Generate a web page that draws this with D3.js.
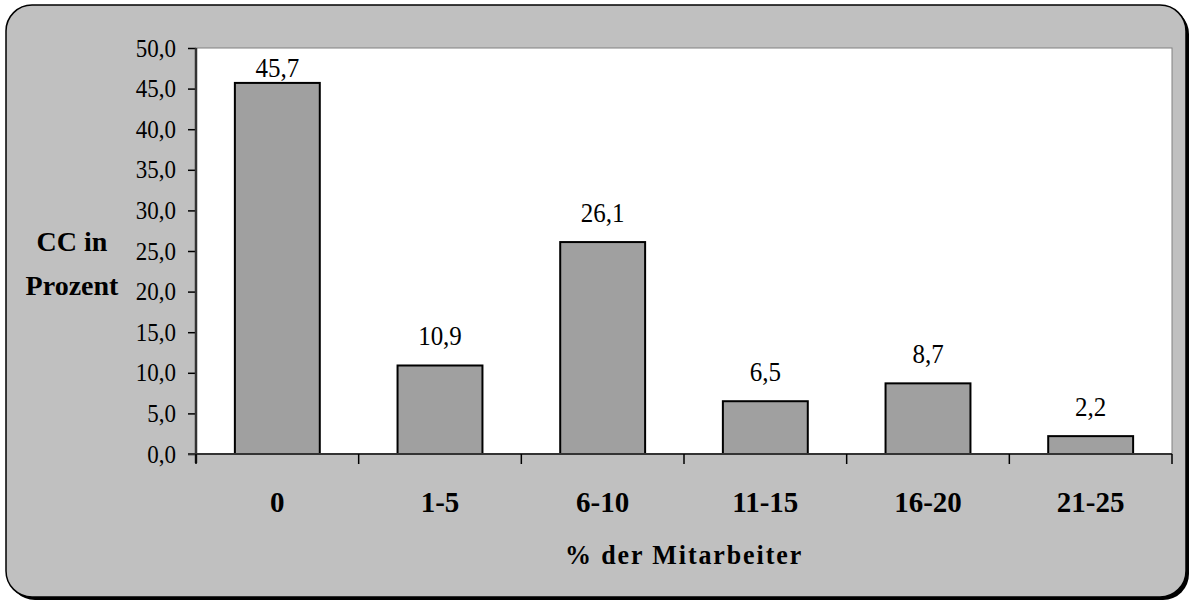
<!DOCTYPE html>
<html>
<head>
<meta charset="utf-8">
<script src="https://cdn.jsdelivr.net/npm/d3@7"></script>
<style>
  html, body { margin: 0; padding: 0; background: #ffffff; }
  svg { display: block; }
  text { font-family: "Liberation Serif", "Times New Roman", serif; fill: #000; }
</style>
</head>
<body>
<svg id="chart" width="1190" height="601"></svg>
<script>
// Anteil der Mitarbeiter (Kategorien) und CC-Anteil in Prozent
const categories = ["0", "1-5", "6-10", "11-15", "16-20", "21-25"];
const values = [45.7, 10.9, 26.1, 6.5, 8.7, 2.2];
const yTicks = [0, 5, 10, 15, 20, 25, 30, 35, 40, 45, 50];

const fmt = v => d3.format(".1f")(v).replace(".", ",");

const svg = d3.select("#chart");

// Frame with drop shadow
svg.append("rect")
  .attr("x", 9).attr("y", 8).attr("width", 1180).attr("height", 592)
  .attr("rx", 26).attr("ry", 26).attr("fill", "#000");
svg.append("rect")
  .attr("x", 6).attr("y", 5).attr("width", 1180).attr("height", 592)
  .attr("rx", 26).attr("ry", 26)
  .attr("fill", "#c0c0c0").attr("stroke", "#000").attr("stroke-width", 1.5);

const plot = { left: 196, top: 48, right: 1172, bottom: 454 };

const x = d3.scaleBand()
  .domain(categories)
  .range([plot.left, plot.right])
  .paddingInner(0.478)
  .paddingOuter(0.239);

const xOuter = d3.scaleBand()
  .domain(categories)
  .range([plot.left, plot.right])
  .padding(0);

const y = d3.scaleLinear().domain([0, 50]).range([plot.bottom, plot.top]);

// Plot area
svg.append("rect")
  .attr("x", plot.left).attr("y", plot.top)
  .attr("width", plot.right - plot.left).attr("height", plot.bottom - plot.top)
  .attr("fill", "#ffffff").attr("stroke", "#808080").attr("stroke-width", 1);

// Bars
svg.append("g").selectAll("rect")
  .data(values)
  .join("rect")
  .attr("x", (d, i) => x(categories[i]))
  .attr("y", d => y(d))
  .attr("width", x.bandwidth())
  .attr("height", d => y(0) - y(d))
  .attr("fill", "#a0a0a0")
  .attr("stroke", "#000")
  .attr("stroke-width", 2);

// Value labels (slightly tall glyphs)
svg.append("g").selectAll("text")
  .data(values)
  .join("text")
  .attr("transform", (d, i) =>
    `translate(${x(categories[i]) + x.bandwidth() / 2},${Math.max(y(d) - 20, plot.top + 29)}) scale(1,1.12)`)
  .attr("text-anchor", "middle")
  .attr("font-size", 25)
  .text(d => fmt(d));

// Y axis
const yAxis = d3.axisLeft(y)
  .tickValues(yTicks)
  .tickFormat(fmt)
  .tickSizeInner(8)
  .tickSizeOuter(0)
  .tickPadding(12);

const gy = svg.append("g")
  .attr("transform", `translate(${plot.left},0)`)
  .call(yAxis);
gy.select(".domain").remove();
gy.selectAll(".tick line").attr("stroke", "#000").attr("stroke-width", 1.5);
gy.selectAll(".tick text")
  .attr("font-family", "Liberation Serif, Times New Roman, serif")
  .attr("font-size", 23).attr("fill", "#000")
  .attr("transform", "scale(1,1.1)");

svg.append("line")
  .attr("x1", plot.left).attr("x2", plot.left)
  .attr("y1", plot.top).attr("y2", plot.bottom + 9)
  .attr("stroke", "#333").attr("stroke-width", 2.5);

// X axis line with boundary ticks
svg.append("line")
  .attr("x1", plot.left - 8).attr("x2", plot.right)
  .attr("y1", plot.bottom).attr("y2", plot.bottom)
  .attr("stroke", "#333").attr("stroke-width", 2);

const boundaries = categories.map(c => xOuter(c)).concat([plot.right]);
svg.append("g").selectAll("line")
  .data(boundaries)
  .join("line")
  .attr("x1", d => d).attr("x2", d => d)
  .attr("y1", plot.bottom).attr("y2", plot.bottom + 10)
  .attr("stroke", "#000").attr("stroke-width", 1.5);

// Category labels
svg.append("g").selectAll("text")
  .data(categories)
  .join("text")
  .attr("transform", d => `translate(${xOuter(d) + xOuter.bandwidth() / 2},512) scale(1,1.05)`)
  .attr("text-anchor", "middle")
  .attr("font-size", 29)
  .attr("font-weight", "bold")
  .text(d => d);

// Axis titles
svg.append("text")
  .attr("transform", `translate(${(plot.left + plot.right) / 2},564) scale(1,1.08)`)
  .attr("text-anchor", "middle")
  .attr("font-size", 26)
  .attr("font-weight", "bold")
  .attr("letter-spacing", 1.9)
  .text("% der Mitarbeiter");

const yTitle = svg.append("text")
  .attr("text-anchor", "middle")
  .attr("font-size", 28)
  .attr("font-weight", "bold");
yTitle.append("tspan").attr("x", 72).attr("y", 251).text("CC in");
yTitle.append("tspan").attr("x", 72).attr("y", 295).text("Prozent");
</script>
</body>
</html>
